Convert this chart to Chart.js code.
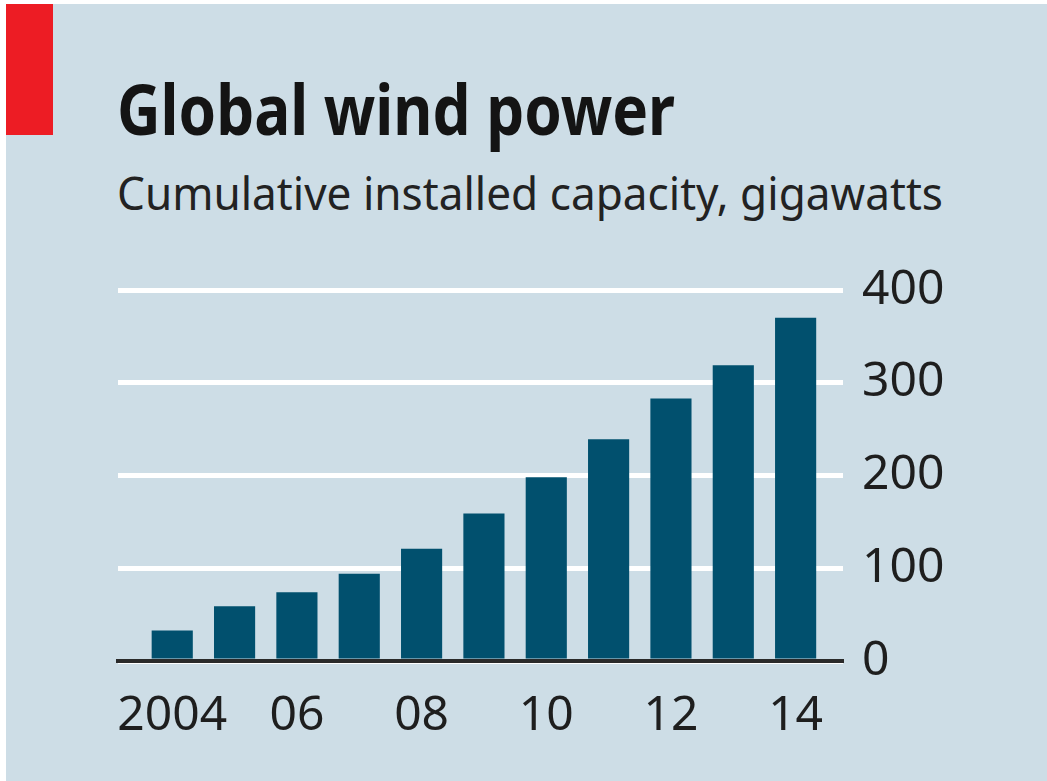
<!DOCTYPE html>
<html>
<head>
<meta charset="utf-8">
<script src="https://cdn.jsdelivr.net/npm/chart.js@4.4.1/dist/chart.umd.min.js"></script>
<style>
	html, body { margin: 0; padding: 0; background: #fff; width: 1047px; height: 781px; overflow: hidden; }
	#page { position: absolute; left: 6px; top: 4px; width: 1041px; height: 777px; background: #cddde6; }
	#redBlock { position: absolute; left: 6px; top: 4px; width: 47px; height: 131px; background: #ed1c24; }
	.head { position: absolute; left: 117px; margin: 0; white-space: nowrap; transform-origin: 0 0; font-family: "Noto Sans", sans-serif; line-height: 1; }
	#title { top: 73px; font-size: 70px; font-weight: 700; color: #141414; }
	#subtitle { top: 170px; font-size: 45px; font-weight: 400; color: #222; }
	#chartBox { position: absolute; left: 0; top: 0; width: 1047px; height: 781px; }
</style>
</head>
<body>
<div id="page"></div>
<div id="redBlock"></div>
<h1 class="head" id="title">Global wind power</h1>
<div class="head" id="subtitle">Cumulative installed capacity, gigawatts</div>
<div id="chartBox"><canvas id="windChart"></canvas></div>
<script>
// Data
var years = [2004, 2005, 2006, 2007, 2008, 2009, 2010, 2011, 2012, 2013, 2014];
var capacityGW = [33, 59, 74, 94, 121, 159, 198, 239, 283, 319, 370];
var xTickYears = [2004, 2006, 2008, 2010, 2012, 2014];
var xTickLabels = ['2004', '06', '08', '10', '12', '14'];

var BAR_COLOR = '#01506e';
var TEXT_COLOR = '#1e1e1e';

// squeeze the heading text to the width it has in the original (condensed face)
function fitWidth(id, target) {
	var el = document.getElementById(id);
	var w = el.getBoundingClientRect().width;
	el.style.transform = 'scaleX(' + (target / w) + ')';
}
fitWidth('title', 558);
fitWidth('subtitle', 826);

var chartData = years.map(function (yr, i) {
	return { x: yr, y: capacityGW[i] };
});

var ctx = document.getElementById('windChart');
var windChart = new Chart(ctx, {
	type: 'bar',
	data: {
		datasets: [{
			label: 'Cumulative installed capacity, GW',
			data: chartData,
			backgroundColor: BAR_COLOR,
			borderWidth: 0,
			barPercentage: 0.66,
			categoryPercentage: 1
		}]
	},
	options: {
		responsive: true,
		maintainAspectRatio: false,
		animation: false,
		layout: { padding: { left: 118, top: 290, right: 0, bottom: 0 } },
		plugins: {
			legend: { display: false },
			tooltip: { enabled: false }
		},
		scales: {
			x: {
				type: 'linear',
				min: 2003.13,
				max: 2014.76,
				offset: false,
				z: 1,
				grid: { display: false, drawTicks: false },
				border: { display: true, color: '#2a2a2a', width: 4 },
				afterBuildTicks: function (scale) {
					scale.ticks = xTickYears.map(function (v) { return { value: v }; });
				},
				afterFit: function (scale) { scale.height = 120; },
				ticks: {
					autoSkip: false,
					maxRotation: 0,
					padding: 27,
					color: TEXT_COLOR,
					font: { family: '"Noto Sans", sans-serif', size: 48 },
					callback: function (value, index) { return xTickLabels[index]; }
				}
			},
			y: {
				position: 'right',
				min: 0,
				max: 400,
				grid: { color: '#ffffff', lineWidth: 5, drawTicks: false },
				border: { display: false },
				afterFit: function (scale) { scale.width = 204; },
				ticks: {
					stepSize: 100,
					padding: 19,
					color: TEXT_COLOR,
					font: { family: '"Noto Sans", sans-serif', size: 48 }
				}
			}
		}
	}
});
</script>
</body>
</html>
